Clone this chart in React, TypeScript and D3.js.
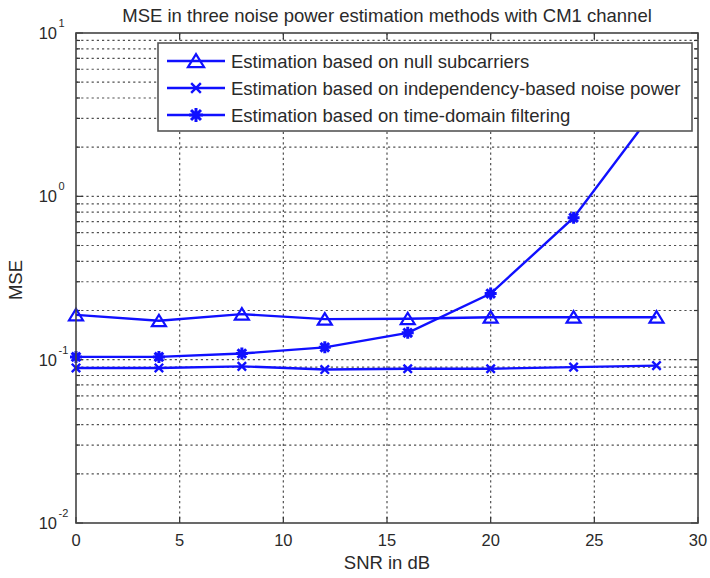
import React from "react";
import * as d3 from "d3";

const snr = [0, 4, 8, 12, 16, 20, 24, 28];
const nullSub = [0.188, 0.173, 0.19, 0.177, 0.178, 0.182, 0.182, 0.182];
const indep = [0.089, 0.089, 0.091, 0.087, 0.088, 0.088, 0.09, 0.092];
const timeDomain = [0.104, 0.104, 0.109, 0.119, 0.146, 0.254, 0.74, 3.5];
const xTicks = [0, 5, 10, 15, 20, 25, 30];
const yDecades = [-2, -1, 0, 1];
const legendLabels = [
  "Estimation based on null subcarriers",
  "Estimation based on independency-based noise power",
  "Estimation based on time-domain filtering",
];
const title = "MSE in three noise power estimation methods with CM1 channel";

const W = 710, H = 578;
const L = 76, R = 698, T = 33, B = 523;
const BLUE = "#1010ff";
const FONT = "'Liberation Sans', Arial, Helvetica, sans-serif";
const TXT = "#2a2a2a";

function Marker({ kind, x, y, s = 1 }: { kind: string; x: number; y: number; s?: number }) {
  if (kind === "tri") {
    const w = 7 * s, h = 6 * s;
    return <polygon points={`${x},${y - h} ${x - w},${y + h * 0.9} ${x + w},${y + h * 0.9}`} fill="none" stroke={BLUE} strokeWidth={2.2} strokeLinejoin="miter" />;
  }
  if (kind === "x") {
    const r = 4.2 * s;
    return <path d={`M${x - r},${y - r}L${x + r},${y + r}M${x - r},${y + r}L${x + r},${y - r}`} stroke={BLUE} strokeWidth={2.4} />;
  }
  const r = 6 * s, d = r * 0.72;
  return (
    <g stroke={BLUE} strokeWidth={3}>
      <path d={`M${x - r},${y}L${x + r},${y}M${x},${y - r}L${x},${y + r}M${x - d},${y - d}L${x + d},${y + d}M${x - d},${y + d}L${x + d},${y - d}`} />
      <circle cx={x} cy={y} r={2.5 * s} fill={BLUE} stroke="none" />
    </g>
  );
}

export default function App() {
  const x = d3.scaleLinear().domain([0, 30]).range([L, R]);
  const y = d3.scaleLog().domain([0.01, 10]).range([B, T]);
  const line = d3.line<[number, number]>().x(d => x(d[0])).y(d => y(d[1]));
  const series = [
    { vals: nullSub, kind: "tri" },
    { vals: indep, kind: "x" },
    { vals: timeDomain, kind: "star" },
  ];
  const minors: number[] = [];
  for (let e = -2; e < 1; e++) for (let m = 2; m <= 9; m++) minors.push(m * Math.pow(10, e));
  const majors = yDecades.map(e => Math.pow(10, e));
  const gridStyle = { stroke: "#505050", strokeWidth: 1.2, strokeDasharray: "2.2,3" };

  return (
    <svg width={W} height={H} style={{ position: "absolute", left: 0, top: 0, background: "#fff" }} fontFamily={FONT}>
      <rect x={0} y={0} width={W} height={H} fill="#fff" />
      <defs>
        <clipPath id="plot"><rect x={L} y={T} width={R - L} height={B - T} /></clipPath>
      </defs>
      {/* grid */}
      <g>
        {xTicks.slice(1, -1).map(t => (
          <line key={"vx" + t} x1={x(t)} x2={x(t)} y1={T} y2={B} {...gridStyle} />
        ))}
        {minors.concat(majors.slice(1, -1)).map((v, i) => (
          <line key={"hy" + i} x1={L} x2={R} y1={y(v)} y2={y(v)} {...gridStyle} />
        ))}
      </g>
      {/* ticks */}
      <g stroke="#333" strokeWidth={1.2}>
        {xTicks.map(t => (
          <g key={"xt" + t}>
            <line x1={x(t)} x2={x(t)} y1={B} y2={B - 6} />
            <line x1={x(t)} x2={x(t)} y1={T} y2={T + 6} />
          </g>
        ))}
        {majors.map((v, i) => (
          <g key={"yt" + i}>
            <line x1={L} x2={L + 7} y1={y(v)} y2={y(v)} />
            <line x1={R} x2={R - 7} y1={y(v)} y2={y(v)} />
          </g>
        ))}
        {minors.map((v, i) => (
          <g key={"ym" + i}>
            <line x1={L} x2={L + 4} y1={y(v)} y2={y(v)} />
            <line x1={R} x2={R - 4} y1={y(v)} y2={y(v)} />
          </g>
        ))}
      </g>
      {/* data */}
      <g clipPath="url(#plot)">
        {series.map((s, i) => (
          <path key={"l" + i} d={line(snr.map((v, j) => [v, s.vals[j]] as [number, number])) || ""} fill="none" stroke={BLUE} strokeWidth={2.4} />
        ))}
      </g>
      <g>
        {series.map((s, i) =>
          snr.map((v, j) =>
            s.vals[j] <= 10 ? <Marker key={`m${i}-${j}`} kind={s.kind} x={x(v)} y={y(s.vals[j])} /> : null
          )
        )}
      </g>
      {/* frame */}
      <rect x={L} y={T} width={R - L} height={B - T} fill="none" stroke="#444" strokeWidth={1.6} />
      {/* legend */}
      <g>
        <rect x={158} y={43} width={534} height={88} fill="#fff" stroke="#555" strokeWidth={1.6} />
        {legendLabels.map((lab, i) => {
          const ly = 61 + i * 27;
          return (
            <g key={"lg" + i}>
              <line x1={167} x2={225} y1={ly} y2={ly} stroke={BLUE} strokeWidth={2.6} />
              <Marker kind={series[i].kind} x={196} y={ly} s={1.15} />
              <text x={231} y={ly + 6.5} fontSize={18.5} fill={TXT}>{lab}</text>
            </g>
          );
        })}
      </g>
      {/* axis labels */}
      {xTicks.map(t => (
        <text key={"xl" + t} x={x(t)} y={546} textAnchor="middle" fontSize={16.5} fill={TXT}>{t}</text>
      ))}
      {yDecades.map(e => (
        <g key={"yl" + e}>
          <text x={57} y={y(Math.pow(10, e)) + 6} textAnchor="end" fontSize={16.5} fill={TXT}>10</text>
          <text x={58.5} y={y(Math.pow(10, e)) - 6} textAnchor="start" fontSize={11} fill={TXT}>{e}</text>
        </g>
      ))}
      <text x={(L + R) / 2} y={22} textAnchor="middle" fontSize={18.5} fill={TXT}>{title}</text>
      <text x={(L + R) / 2} y={569} textAnchor="middle" fontSize={18.5} fill={TXT}>SNR in dB</text>
      <text transform={`translate(22,${(T + B) / 2 + 2}) rotate(-90)`} textAnchor="middle" fontSize={18.5} fill={TXT}>MSE</text>
    </svg>
  );
}
